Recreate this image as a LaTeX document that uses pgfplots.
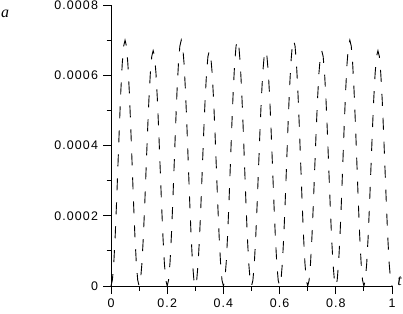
\documentclass[border=0pt]{standalone}
\usepackage{fontspec}
\setmainfont{Liberation Sans}[LetterSpace=9]
\newfontfamily\lblfont{Liberation Serif}
\usepackage{pgfplots}
\pgfplotsset{compat=1.18}
\begin{document}
\begin{tikzpicture}[x=1bp,y=1bp]
\begin{axis}[
  at={(111bp,28bp)}, anchor=south west,
  scale only axis, width=281bp, height=281bp,
  axis lines*=left,
  axis line style={line width=0.9bp, -},
  xmin=0, xmax=1, ymin=0, ymax=0.0008,
  xtick={0,0.2,0.4,0.6,0.8,1},
  xticklabels={0,0.2,0.4,0.6,0.8,1},
  ytick={0,0.0002,0.0004,0.0006,0.0008},
  yticklabels={0,0.0002,0.0004,0.0006,0.0008},
  minor x tick num=1, minor y tick num=1,
  scaled ticks=false,
  tick align=outside,
  major tick length=8bp, minor tick length=4.5bp,
  tick style={line width=0.9bp, black},
  ticklabel style={font=\fontsize{12.5}{14}\selectfont},
  yticklabel style={xshift=-1.5bp},
  xticklabel style={yshift=-1bp},
  /pgf/number format/assume math mode=true,
  clip=false,
]
\addplot[black, line width=0.9bp, dash pattern=on 12bp off 12bp] coordinates {
(0,0)(0.005,0.1713e-4)(0.01,0.6684e-4)(0.015,1.443e-4)(0.02,2.419e-4)(0.025,3.500e-4)(0.03,4.582e-4)(0.035,5.557e-4)(0.04,6.332e-4)(0.045,6.829e-4)(0.05,7.000e-4)
(0.055,6.829e-4)(0.06,6.332e-4)(0.065,5.557e-4)(0.07,4.582e-4)(0.075,3.500e-4)(0.08,2.419e-4)(0.085,1.443e-4)(0.09,0.6684e-4)(0.095,0.1713e-4)(0.1,0)
(0.105,0.1639e-4)(0.11,0.6398e-4)(0.115,1.381e-4)(0.12,2.315e-4)(0.125,3.350e-4)(0.13,4.385e-4)(0.135,5.319e-4)(0.14,6.061e-4)(0.145,6.536e-4)(0.15,6.700e-4)
(0.155,6.536e-4)(0.16,6.061e-4)(0.165,5.319e-4)(0.17,4.385e-4)(0.175,3.350e-4)(0.18,2.315e-4)(0.185,1.381e-4)(0.19,0.6398e-4)(0.195,0.1639e-4)(0.2,0)
(0.205,0.1713e-4)(0.21,0.6684e-4)(0.215,1.443e-4)(0.22,2.419e-4)(0.225,3.500e-4)(0.23,4.582e-4)(0.235,5.557e-4)(0.24,6.332e-4)(0.245,6.829e-4)(0.25,7.000e-4)
(0.255,6.829e-4)(0.26,6.332e-4)(0.265,5.557e-4)(0.27,4.582e-4)(0.275,3.500e-4)(0.28,2.419e-4)(0.285,1.443e-4)(0.29,0.6684e-4)(0.295,0.1713e-4)(0.3,0)
(0.305,0.1639e-4)(0.31,0.6398e-4)(0.315,1.381e-4)(0.32,2.315e-4)(0.325,3.350e-4)(0.33,4.385e-4)(0.335,5.319e-4)(0.34,6.061e-4)(0.345,6.536e-4)(0.35,6.700e-4)
(0.355,6.536e-4)(0.36,6.061e-4)(0.365,5.319e-4)(0.37,4.385e-4)(0.375,3.350e-4)(0.38,2.315e-4)(0.385,1.381e-4)(0.39,0.6398e-4)(0.395,0.1639e-4)(0.4,0)
(0.405,0.1713e-4)(0.41,0.6684e-4)(0.415,1.443e-4)(0.42,2.419e-4)(0.425,3.500e-4)(0.43,4.582e-4)(0.435,5.557e-4)(0.44,6.332e-4)(0.445,6.829e-4)(0.45,7.000e-4)
(0.455,6.829e-4)(0.46,6.332e-4)(0.465,5.557e-4)(0.47,4.582e-4)(0.475,3.500e-4)(0.48,2.419e-4)(0.485,1.443e-4)(0.49,0.6684e-4)(0.495,0.1713e-4)(0.5,0)
(0.505,0.1639e-4)(0.51,0.6398e-4)(0.515,1.381e-4)(0.52,2.315e-4)(0.525,3.350e-4)(0.53,4.385e-4)(0.535,5.319e-4)(0.54,6.061e-4)(0.545,6.536e-4)(0.55,6.700e-4)
(0.555,6.536e-4)(0.56,6.061e-4)(0.565,5.319e-4)(0.57,4.385e-4)(0.575,3.350e-4)(0.58,2.315e-4)(0.585,1.381e-4)(0.59,0.6398e-4)(0.595,0.1639e-4)(0.6,0)
(0.605,0.1713e-4)(0.61,0.6684e-4)(0.615,1.443e-4)(0.62,2.419e-4)(0.625,3.500e-4)(0.63,4.582e-4)(0.635,5.557e-4)(0.64,6.332e-4)(0.645,6.829e-4)(0.65,7.000e-4)
(0.655,6.829e-4)(0.66,6.332e-4)(0.665,5.557e-4)(0.67,4.582e-4)(0.675,3.500e-4)(0.68,2.419e-4)(0.685,1.443e-4)(0.69,0.6684e-4)(0.695,0.1713e-4)(0.7,0)
(0.705,0.1639e-4)(0.71,0.6398e-4)(0.715,1.381e-4)(0.72,2.315e-4)(0.725,3.350e-4)(0.73,4.385e-4)(0.735,5.319e-4)(0.74,6.061e-4)(0.745,6.536e-4)(0.75,6.700e-4)
(0.755,6.536e-4)(0.76,6.061e-4)(0.765,5.319e-4)(0.77,4.385e-4)(0.775,3.350e-4)(0.78,2.315e-4)(0.785,1.381e-4)(0.79,0.6398e-4)(0.795,0.1639e-4)(0.8,0)
(0.805,0.1713e-4)(0.81,0.6684e-4)(0.815,1.443e-4)(0.82,2.419e-4)(0.825,3.500e-4)(0.83,4.582e-4)(0.835,5.557e-4)(0.84,6.332e-4)(0.845,6.829e-4)(0.85,7.000e-4)
(0.855,6.829e-4)(0.86,6.332e-4)(0.865,5.557e-4)(0.87,4.582e-4)(0.875,3.500e-4)(0.88,2.419e-4)(0.885,1.443e-4)(0.89,0.6684e-4)(0.895,0.1713e-4)(0.9,0)
(0.905,0.1639e-4)(0.91,0.6398e-4)(0.915,1.381e-4)(0.92,2.315e-4)(0.925,3.350e-4)(0.93,4.385e-4)(0.935,5.319e-4)(0.94,6.061e-4)(0.945,6.536e-4)(0.95,6.700e-4)
(0.955,6.536e-4)(0.96,6.061e-4)(0.965,5.319e-4)(0.97,4.385e-4)(0.975,3.350e-4)(0.98,2.315e-4)(0.985,1.381e-4)(0.99,0.6398e-4)(0.995,0.1639e-4)(1,0)
};
\end{axis}
\node[font=\lblfont\itshape\fontsize{16}{18}\selectfont, inner sep=0pt] at (5bp,300bp) {a};
\node[font=\lblfont\itshape\fontsize{16}{18}\selectfont, inner sep=0pt] at (399.5bp,33bp) {t};
\pgfresetboundingbox
\path (0,0) rectangle (403bp,314bp);
\end{tikzpicture}
\end{document}
